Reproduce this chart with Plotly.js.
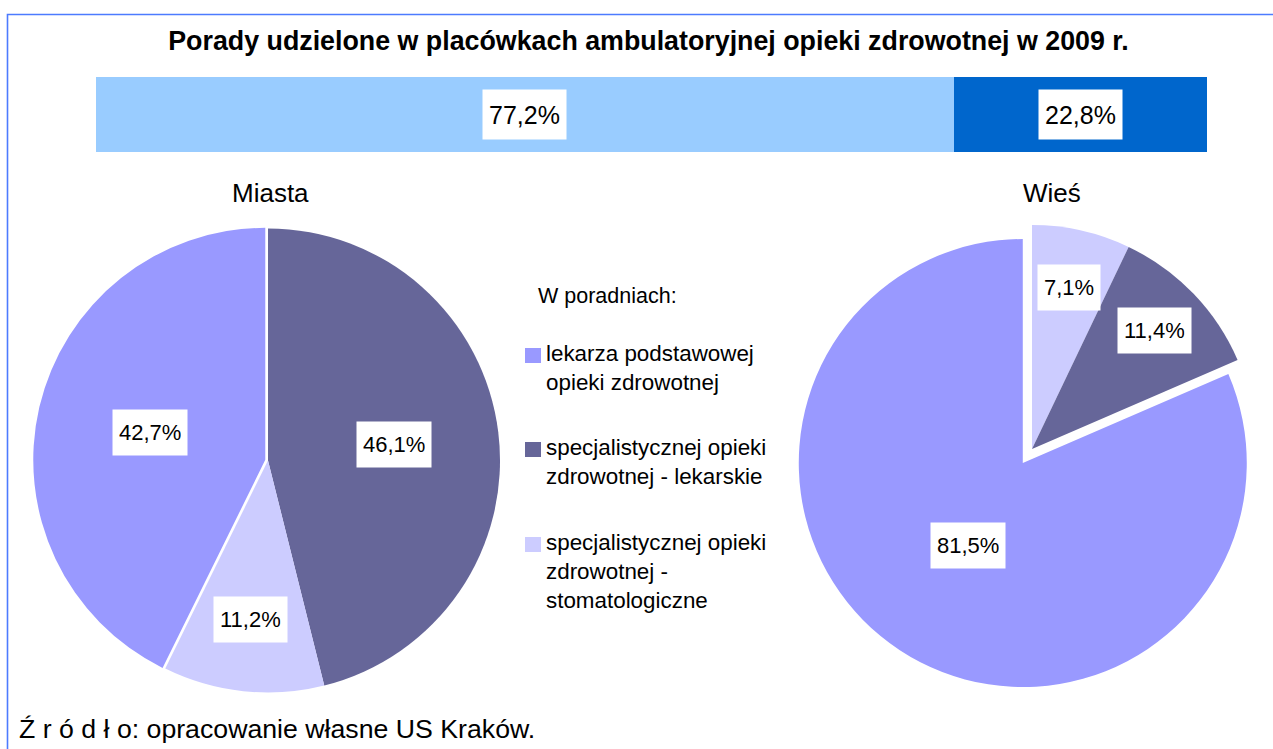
<!DOCTYPE html>
<html><head><meta charset="utf-8">
<script src="https://cdn.plot.ly/plotly-3.0.1.min.js"></script>
<style>html,body{margin:0;padding:0;background:#fff;overflow:hidden}</style>
</head><body><div id="chart" style="width:1273px;height:749px"></div>
<script>
// ---------- DATA ----------
const chartTitle = 'Porady udzielone w placówkach ambulatoryjnej opieki zdrowotnej w 2009 r.';
const areaNames = ['Miasta', 'Wieś'];
const areaShares = [77.2, 22.8];
const categories = [
  'lekarza podstawowej opieki zdrowotnej',
  'specjalistycznej opieki zdrowotnej - lekarskie',
  'specjalistycznej opieki zdrowotnej - stomatologiczne'
];
const legendLabels = [
  'lekarza podstawowej<br>opieki zdrowotnej',
  'specjalistycznej opieki<br>zdrowotnej - lekarskie',
  'specjalistycznej opieki<br>zdrowotnej -<br>stomatologiczne'
];
const miastaValues = [42.7, 46.1, 11.2];
const wiesValues = [81.5, 11.4, 7.1];
const legendTitle = 'W poradniach:';
const sourceNote = 'Ź r ó d ł o: opracowanie własne US Kraków.';

// ---------- STYLE ----------
const W = 1273, H = 749;
const FONT = 'Liberation Sans, Arial, sans-serif';
const sliceColors = ['#9999FF', '#666699', '#CCCCFF'];
const barColors = ['#99CCFF', '#0066CC'];
// slice order going clockwise from 12 o'clock
const miastaOrder = [1, 2, 0];
const wiesOrder = [2, 1, 0];
const miastaPull = [0.012, 0, 0];
const wiesPull = [0.075, 0, 0];
const miastaLabelR = [0.51, 0.547, 0.69];
const wiesLabelR = [0.443, 0.76, 0.74];
const miastaBox = {cx: 268, cy: 460.5, half: 234.8};
const wiesBox = {cx: 1032, cy: 449, half: 240.8};

const px = x => x / W;
const py = y => 1 - y / H;
const fmt = v => v.toFixed(1).replace('.', ',') + '%';

function boxDomain(b) {
  return {x: [px(b.cx - b.half), px(b.cx + b.half)], y: [py(b.cy + b.half), py(b.cy - b.half)]};
}

function pieTrace(vals, order, box, pulls, name) {
  return {
    type: 'pie', name: name,
    labels: order.map(i => categories[i]),
    values: order.map(i => vals[i]),
    marker: {colors: order.map(i => sliceColors[i]), line: {width: 0}},
    pull: order.map(i => pulls[i]),
    sort: false, direction: 'clockwise', rotation: 0,
    textinfo: 'none', hoverinfo: 'none', showlegend: false,
    domain: boxDomain(box)
  };
}

function pieLabels(vals, order, box, pulls, factors) {
  const maxPull = Math.max(...pulls);
  const r = box.half / (1 + maxPull);
  const total = order.reduce((s, i) => s + vals[i], 0);
  let cum = 0;
  const out = [];
  order.forEach(i => {
    const th = (cum + vals[i] / 2) / total * 2 * Math.PI;
    cum += vals[i];
    const dx = Math.sin(th), dy = -Math.cos(th);
    const x = box.cx + pulls[i] * r * dx + factors[i] * r * dx;
    const y = box.cy + pulls[i] * r * dy + factors[i] * r * dy;
    out.push({
      text: fmt(vals[i]), xref: 'paper', yref: 'paper', x: px(x), y: py(y),
      xanchor: 'center', yanchor: 'middle', showarrow: false,
      bgcolor: '#FFFFFF', borderpad: 6, height: 33,
      font: {family: FONT, size: 22, color: '#000'}
    });
  });
  return out;
}

const traces = [];
areaShares.forEach((v, k) => {
  traces.push({
    type: 'bar', orientation: 'h', x: [v], y: [0], width: 1,
    marker: {color: barColors[k], line: {width: 0}},
    name: areaNames[k], hoverinfo: 'none', showlegend: false,
    xaxis: 'x', yaxis: 'y'
  });
});
traces.push(pieTrace(miastaValues, miastaOrder, miastaBox, miastaPull, areaNames[0]));
traces.push(pieTrace(wiesValues, wiesOrder, wiesBox, wiesPull, areaNames[1]));

const annotations = [];
let cumBar = 0;
areaShares.forEach(v => {
  annotations.push({
    text: fmt(v), xref: 'x', yref: 'y', x: cumBar + v / 2, y: 0,
    xanchor: 'center', yanchor: 'middle', showarrow: false,
    bgcolor: '#FFFFFF', borderpad: 6, height: 37,
    font: {family: FONT, size: 25, color: '#000'}
  });
  cumBar += v;
});
annotations.push(...pieLabels(miastaValues, miastaOrder, miastaBox, miastaPull, miastaLabelR));
annotations.push(...pieLabels(wiesValues, wiesOrder, wiesBox, wiesPull, wiesLabelR));

[[areaNames[0], 270], [areaNames[1], 1052]].forEach(([t, x]) => {
  annotations.push({text: t, xref: 'paper', yref: 'paper', x: px(x), y: py(177),
    xanchor: 'center', yanchor: 'top', showarrow: false, borderpad: 0,
    font: {family: FONT, size: 26, color: '#000'}});
});

annotations.push({text: legendTitle, xref: 'paper', yref: 'paper', x: px(537), y: py(283),
  xanchor: 'left', yanchor: 'top', showarrow: false, borderpad: 0,
  font: {family: FONT, size: 21.5, color: '#000'}});
const legendTops = [340, 434, 529];
const shapes = [];
legendLabels.forEach((t, i) => {
  annotations.push({text: t, xref: 'paper', yref: 'paper', x: px(545), y: py(legendTops[i]),
    xanchor: 'left', yanchor: 'top', align: 'left', showarrow: false, borderpad: 0,
    font: {family: FONT, size: 22.4, color: '#000'}});
  shapes.push({type: 'rect', xref: 'paper', yref: 'paper',
    x0: px(525), x1: px(541), y0: py(legendTops[i] + 23), y1: py(legendTops[i] + 8),
    fillcolor: sliceColors[i], line: {width: 0}});
});

annotations.push({text: sourceNote, xref: 'paper', yref: 'paper', x: px(18), y: py(713),
  xanchor: 'left', yanchor: 'top', showarrow: false, borderpad: 0,
  font: {family: FONT, size: 26.7, color: '#000'}});

shapes.push({type: 'rect', xref: 'paper', yref: 'paper', x0: px(7.5), x1: 1.05, y0: -0.05, y1: py(14.5),
  line: {color: '#4D7BFF', width: 1.6}, fillcolor: 'rgba(0,0,0,0)'});

const layout = {
  width: W, height: H,
  margin: {l: 0, r: 0, t: 0, b: 0},
  paper_bgcolor: '#FFFFFF', plot_bgcolor: 'rgba(0,0,0,0)',
  showlegend: false, barmode: 'stack',
  title: {text: '<b>' + chartTitle + '</b>', x: px(648.5), xanchor: 'center', xref: 'paper',
    y: py(31), yref: 'container', yanchor: 'top',
    font: {family: FONT, size: 26.8, color: '#000'}},
  xaxis: {domain: [px(96), px(1207)], range: [0, 100], visible: false, fixedrange: true},
  yaxis: {domain: [py(152), py(77)], range: [-0.5, 0.5], visible: false, fixedrange: true},
  annotations: annotations,
  shapes: shapes
};

Plotly.newPlot('chart', traces, layout, {displayModeBar: false, staticPlot: true});
</script></body></html>
